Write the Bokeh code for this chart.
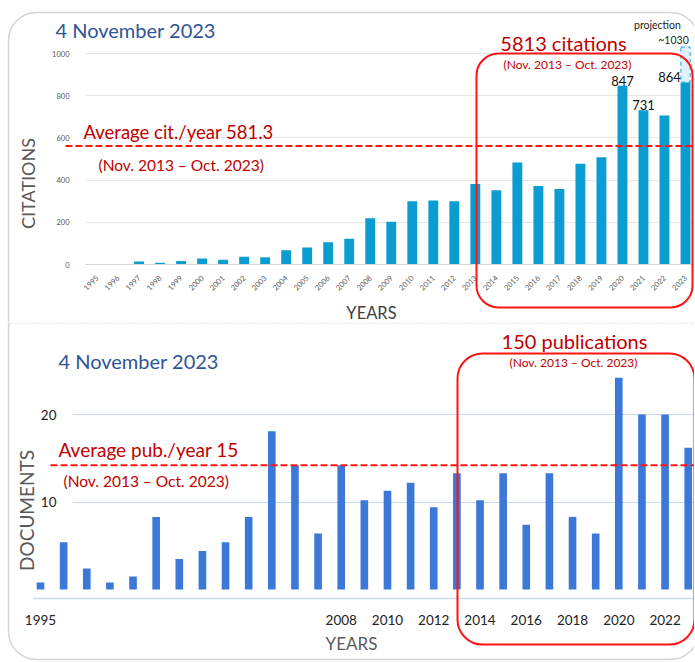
import math
from bokeh.plotting import figure
from bokeh.models import FixedTicker, Label, BoxAnnotation, Arrow, ColumnDataSource
from bokeh.layouts import column
from bokeh.embed import file_html
from bokeh.resources import INLINE

# ---------------- data ----------------
years = list(range(1995, 2024))
citations = [0, 0, 14, 8, 17, 28, 23, 37, 34, 67, 81, 105, 122, 219, 203,
             300, 303, 300, 381, 352, 484, 372, 358, 478, 508, 847, 731, 706, 864]
documents = [0.8, 5.4, 2.4, 0.8, 1.5, 8.3, 3.5, 4.4, 5.4, 8.3, 18.1, 14.2, 6.4, 14.2, 10.2,
             11.3, 12.2, 9.4, 13.3, 10.2, 13.3, 7.4, 13.3, 8.3, 6.4, 24.2, 20.0, 20.0, 16.2]
labelled_years = [2020, 2021, 2023]
projection_year = 2023
projection_value = 1030
cit_ticks = [0, 200, 400, 600, 800, 1000]
doc_ticks = [10, 20]
doc_year_ticks = [1995, 2008, 2010, 2012, 2014, 2016, 2018, 2020, 2022]
date_title = "4 November 2023"
period_text = "(Nov. 2013 \u2013 Oct. 2023)"
avg_cit_text = "Average cit./year 581.3"
avg_cit_level = 562
avg_pub_text = "Average pub./year 15"
avg_pub_level = 14.2
total_cit_text = "5813 citations"
total_pub_text = "150 publications"

# ---------------- styling ----------------
FONT = "Lato"
RED_TXT = "#c00000"
RED = "#ff1414"
BLUE_TXT = "#2f5597"
GRAY_TXT = "#595959"
W = 694
H1 = 322
H2 = 339
PAGE = 0


class Frame:
    """Maps page pixels to data units; the frame fills the whole canvas."""
    def __init__(self, top_page, height, first_px, last_px, zero_px, ppu):
        self.L, self.R = PAGE, PAGE + W
        self.T, self.B = top_page, top_page + height
        k = (last_px - first_px) / (years[-1] - years[0])
        self.x0 = years[0] - (first_px - self.L) / k
        self.x1 = years[-1] + (self.R - last_px) / k
        self.y0 = -(self.B - zero_px) / ppu
        self.y1 = (zero_px - self.T) / ppu

    def x(self, px):
        return self.x0 + (px - self.L) * (self.x1 - self.x0) / (self.R - self.L)

    def y(self, py):
        return self.y0 + (self.B - py) * (self.y1 - self.y0) / (self.B - self.T)


def base_fig(fr, height):
    p = figure(width=W, height=height, x_range=(fr.x0, fr.x1), y_range=(fr.y0, fr.y1),
               output_backend="svg", toolbar_location=None,
               min_border_left=0, min_border_right=0, min_border_top=0, min_border_bottom=0)
    p.outline_line_color = None
    p.background_fill_color = "white"
    p.border_fill_color = "white"
    p.xgrid.grid_line_color = None
    return p


def label(p, x, y, text, size, color, align="left", baseline="middle", angle=0.0):
    p.add_layout(Label(x=x, y=y, text=text, text_font=FONT, text_font_size=size,
                       text_color=color, text_align=align, text_baseline=baseline,
                       angle=angle))


def hline(p, x_a, x_b, y, color, width, dash):
    p.add_layout(Arrow(x_start=x_a, y_start=y, x_end=x_b, y_end=y, start=None, end=None,
                       line_color=color, line_width=width, line_dash=dash))


def rbox(p, left, right, top, bottom, color, width, radius, dash="solid"):
    kw = dict(left=left, right=right, top=top, bottom=bottom, fill_alpha=0,
              line_color=color, line_alpha=1.0, line_width=width, line_dash=dash)
    try:
        b = BoxAnnotation(border_radius=radius, **kw)
    except Exception:
        b = BoxAnnotation(**kw)
    p.add_layout(b)


def style_axis(ax, size, color, standoff):
    ax.major_tick_line_color = None
    ax.minor_tick_line_color = None
    ax.major_label_standoff = standoff
    ax.major_label_text_font = FONT
    ax.major_label_text_font_size = size
    ax.major_label_text_color = color


# ======================= TOP : citations =======================
f1 = Frame(PAGE, H1, 96.5, 685, 264, 0.211)
p1 = base_fig(f1, H1)

rbox(p1, f1.x(8), f1.x(698), f1.y(12), f1.y(360), "#d4d4d4", 1.5, 28)

src1 = ColumnDataSource(dict(year=years, cit=citations))
p1.vbar(x="year", top="cit", width=0.47, source=src1, fill_color="#0b9dd1", line_color=None)

p1.add_layout(BoxAnnotation(left=projection_year - 0.22, right=projection_year + 0.22,
                            bottom=citations[-1], top=projection_value,
                            fill_color="#dff2fb", fill_alpha=1.0, line_color="#3db5e6",
                            line_alpha=1.0, line_width=1.2, line_dash="4 3"))

p1.yaxis.ticker = FixedTicker(ticks=cit_ticks)
p1.yaxis.fixed_location = f1.x(85)
p1.yaxis.axis_line_color = None
style_axis(p1.yaxis, "7.5px", GRAY_TXT, 10)

p1.xaxis.ticker = FixedTicker(ticks=years)
p1.xaxis.fixed_location = 0
p1.xaxis.bounds = (f1.x(85), f1.x1)
p1.xaxis.major_label_orientation = math.pi / 4
p1.xaxis.axis_line_color = "#d9d9d9"
style_axis(p1.xaxis, "7.5px", GRAY_TXT, 6)

p1.ygrid.grid_line_color = "#e6e6e6"
try:
    p1.ygrid.cross_bounds = (f1.x(85), f1.x1)
except Exception:
    pass

for yr in labelled_years:
    v = citations[years.index(yr)]
    if yr == years[-1]:
        label(p1, yr - 0.22, v, str(v), "13px", "#111111", align="right", baseline="bottom")
    else:
        label(p1, yr, v, str(v), "13px", "#111111", align="center", baseline="bottom")

label(p1, f1.x(657), f1.y(24), "projection", "10.5px", "#222222", align="center")
label(p1, f1.x(673), f1.y(39), "~" + str(projection_value), "10.5px", "#222222", align="center")

hline(p1, f1.x(65), f1.x(740), avg_cit_level, RED, 2, "7 3")
label(p1, f1.x(83), f1.y(131), avg_cit_text, "18.5px", RED_TXT)
label(p1, f1.x(98), f1.y(164), period_text, "15.5px", RED_TXT)

rbox(p1, f1.x(476), f1.x(692), f1.y(53), f1.y(307), RED, 2, 22)
label(p1, f1.x(563), f1.y(42), total_cit_text, "20px", RED_TXT, align="center")
label(p1, f1.x(567), f1.y(64), period_text, "12px", RED_TXT, align="center")

label(p1, f1.x(55), f1.y(29), date_title, "20px", BLUE_TXT)
label(p1, f1.x(27), f1.y(183), "CITATIONS", "18px", GRAY_TXT, align="center", angle=math.pi / 2)
label(p1, f1.x(371), f1.y(312), "YEARS", "16.5px", "#404040", align="center")

# ======================= BOTTOM : documents =======================
TOP2 = PAGE + H1
f2 = Frame(TOP2, H2, 40, 687.7, 589, 8.75)
p2 = base_fig(f2, H2)

rbox(p2, f2.x(8), f2.x(698), f2.y(300), f2.y(659), "#d4d4d4", 1.5, 28)
hline(p2, f2.x(8), f2.x(740), f2.y(323), "#d0d0d0", 1, "1 2")

src2 = ColumnDataSource(dict(year=years, doc=documents))
p2.vbar(x="year", top="doc", width=0.33, source=src2, fill_color="#3c78d8", line_color=None)

p2.yaxis.ticker = FixedTicker(ticks=doc_ticks)
p2.yaxis.fixed_location = f2.x(66)
p2.yaxis.axis_line_color = None
style_axis(p2.yaxis, "13.5px", "#222222", 4)

p2.ygrid.grid_line_color = "#c9daf8"
try:
    p2.ygrid.cross_bounds = (f2.x(72), f2.x1)
except Exception:
    pass

p2.xaxis.ticker = FixedTicker(ticks=doc_year_ticks)
p2.xaxis.fixed_location = f2.y(598)
p2.xaxis.bounds = (f2.x(33), f2.x1)
p2.xaxis.axis_line_color = "#c9daf8"
p2.xaxis.axis_line_width = 1.5
style_axis(p2.xaxis, "13.5px", "#222222", 10)

hline(p2, f2.x(50), f2.x(740), avg_pub_level, RED, 2, "7 3")
label(p2, f2.x(58), f2.y(449), avg_pub_text, "19px", RED_TXT)
label(p2, f2.x(63), f2.y(480), period_text, "15.5px", RED_TXT)

rbox(p2, f2.x(457), f2.x(694), f2.y(353), f2.y(644), RED, 2, 25)
label(p2, f2.x(574), f2.y(340), total_pub_text, "20px", RED_TXT, align="center")
label(p2, f2.x(573), f2.y(362), period_text, "12px", RED_TXT, align="center")

label(p2, f2.x(58), f2.y(360), date_title, "20px", BLUE_TXT)
label(p2, f2.x(26), f2.y(510), "DOCUMENTS", "19px", GRAY_TXT, align="center", angle=math.pi / 2)
label(p2, f2.x(351), f2.y(643), "YEARS", "17px", GRAY_TXT, align="center")

layout = column(p1, p2, spacing=0)
open("out.html", "w").write(file_html(layout, INLINE))
